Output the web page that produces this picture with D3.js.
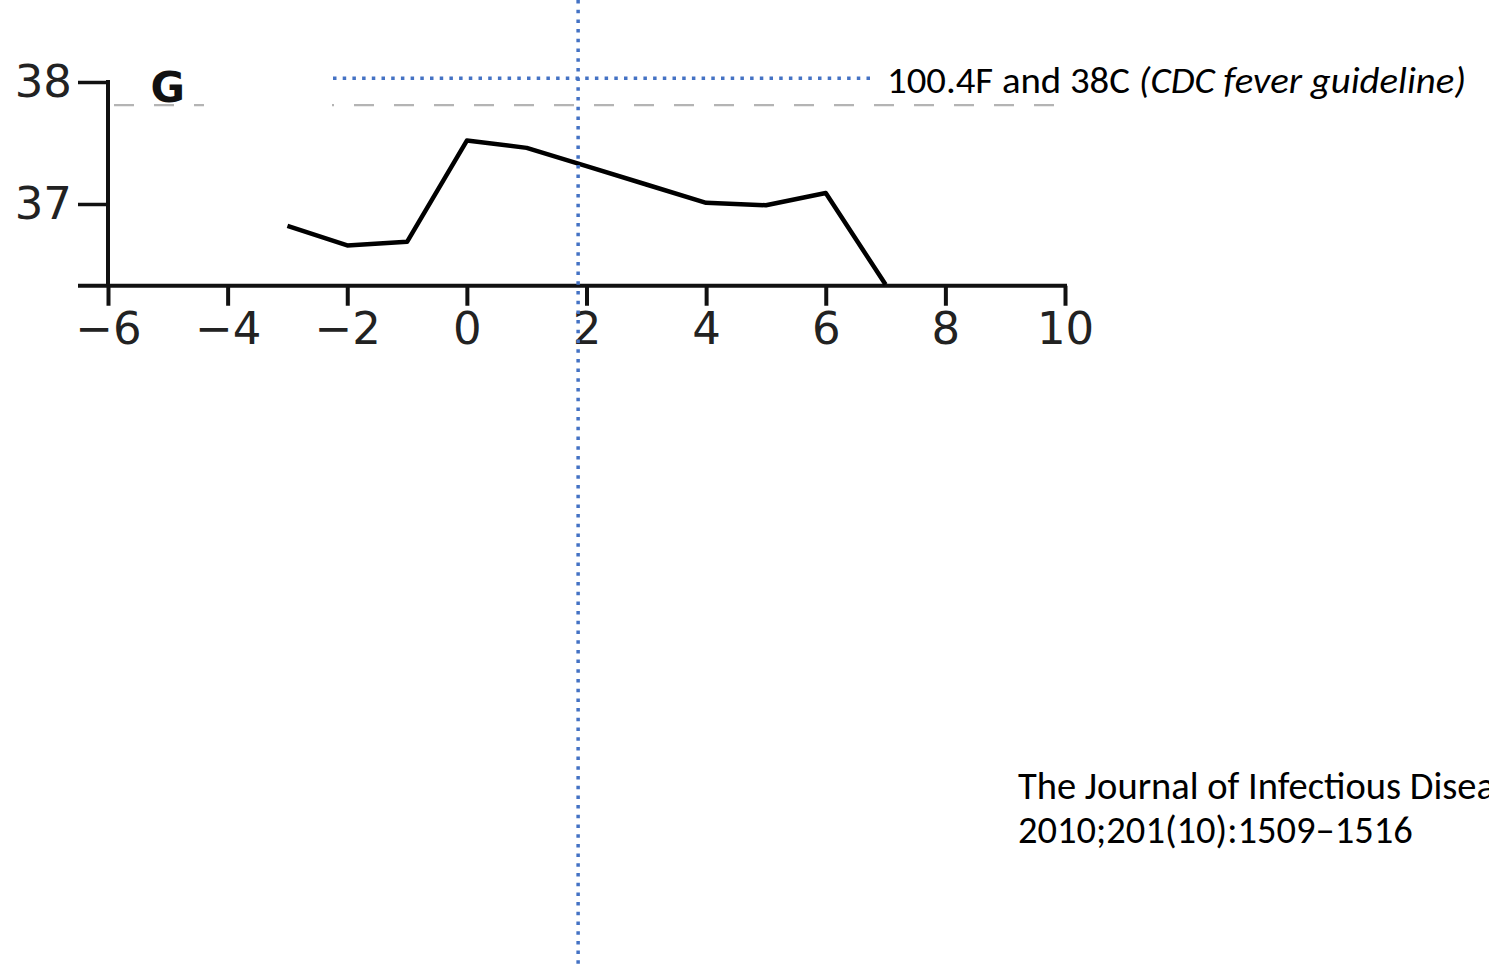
<!DOCTYPE html>
<html>
<head>
<meta charset="utf-8">
<script src="https://cdn.jsdelivr.net/npm/d3@7"></script>
<style>
  html, body { margin: 0; padding: 0; background: #fff; overflow: hidden; }
  svg { display: block; }
  .tick text { font-family: "DejaVu Sans", sans-serif; fill: #222; }
  .note { font-family: Carlito, Calibri, Lato, "Noto Sans", sans-serif; fill: #000; }
</style>
</head>
<body>
<svg></svg>
<script>
(function () {
  var width = 1489;
  var height = 964;

  // days relative to onset vs. mean temperature (C)
  var days = [-3, -2, -1, 0, 1, 2, 3, 4, 5, 6, 7];
  var temps = [36.82, 36.66, 36.69, 37.52, 37.46, 37.31, 37.16, 37.01, 36.99, 37.09, 36.34];

  var xTicks = [-6, -4, -2, 0, 2, 4, 6, 8, 10];
  var yTicks = [37, 38];
  var yBottom = 36.33;        // where the x axis sits
  var dashedLevel = 37.81;    // grey dashed reference line
  var guideLevel = 38.03;     // blue dotted CDC line
  var markerDay = 1.86;       // blue dotted vertical line

  var panelLabel = "G";
  var guideText = "100.4F and 38C ";
  var guideItalic = "(CDC fever guideline)";
  var citeLines = ["The Journal of Infectious Diseases", "2010;201(10):1509\u20131516"];

  var svg = d3.select("svg")
        .attr("width", width)
        .attr("height", height);

  var x = d3.scaleLinear().domain([-6, 10]).range([108, 1065]);
  var y = d3.scaleLinear().domain([37, 38]).range([204, 82]);

  var g = svg.append("g");

  // grey dashed line (partly hidden behind the label box)
  g.append("line")
    .attr("x1", x(-6)).attr("x2", x(10))
    .attr("y1", y(dashedLevel)).attr("y2", y(dashedLevel))
    .attr("stroke", "#b4b4b4")
    .attr("stroke-width", 2.2)
    .attr("stroke-dasharray", "20,20")
    .attr("stroke-dashoffset", -6);
  g.append("rect")
    .attr("x", 204).attr("y", 60)
    .attr("width", 128).attr("height", 60)
    .attr("fill", "#fff");

  // x axis
  var xAxis = g.append("g")
    .attr("transform", "translate(0," + y(yBottom) + ")")
    .call(d3.axisBottom(x)
          .tickValues(xTicks)
          .tickSize(20)
          .tickSizeOuter(0)
          .tickPadding(6));
  xAxis.select(".domain").remove();
  xAxis.selectAll(".tick line").attr("stroke", "#111").attr("stroke-width", 4);
  xAxis.selectAll(".tick text").attr("font-size", 45);
  xAxis.append("line")
    .attr("x1", x(-6) - 30).attr("x2", x(10) + 2)
    .attr("stroke", "#111").attr("stroke-width", 4);

  // y axis
  var yAxis = g.append("g")
    .attr("transform", "translate(" + x(-6) + ",0)")
    .call(d3.axisLeft(y)
          .tickValues(yTicks)
          .tickFormat(d3.format("d"))
          .tickSize(30)
          .tickSizeOuter(0)
          .tickPadding(6));
  yAxis.select(".domain").remove();
  yAxis.selectAll(".tick line").attr("stroke", "#111").attr("stroke-width", 3.5);
  yAxis.selectAll(".tick text").attr("font-size", 45);
  yAxis.append("line")
    .attr("y1", y(38) - 2).attr("y2", y(yBottom))
    .attr("stroke", "#111").attr("stroke-width", 4);

  // panel letter
  g.append("text")
    .attr("x", x(-5)).attr("y", y(38) + 20)
    .attr("text-anchor", "middle")
    .attr("font-family", "'DejaVu Sans', sans-serif")
    .attr("font-weight", "bold")
    .attr("font-size", 42)
    .attr("fill", "#111")
    .text(panelLabel);

  // temperature curve
  var line = d3.line()
        .x(function(d) { return x(d[0]); })
        .y(function(d) { return y(d[1]); });
  g.append("path")
    .datum(d3.zip(days, temps))
    .attr("d", line)
    .attr("fill", "none")
    .attr("stroke", "#000")
    .attr("stroke-width", 4.5)
    .attr("stroke-linejoin", "round");

  // blue dotted annotation lines
  var blue = "#4472C4";
  svg.append("line")
    .attr("x1", 333).attr("x2", 872)
    .attr("y1", y(guideLevel)).attr("y2", y(guideLevel))
    .attr("stroke", blue).attr("stroke-width", 3.5)
    .attr("stroke-dasharray", "3.5,6.2");
  svg.append("line")
    .attr("x1", x(markerDay)).attr("x2", x(markerDay))
    .attr("y1", 0).attr("y2", height)
    .attr("stroke", blue).attr("stroke-width", 3.5)
    .attr("stroke-dasharray", "3.5,6.2");

  var t = svg.append("text")
    .attr("class", "note")
    .attr("x", 887).attr("y", 93)
    .attr("font-size", 37)
    .attr("textLength", 579)
    .attr("lengthAdjust", "spacingAndGlyphs");
  t.append("tspan").text(guideText);
  t.append("tspan").attr("font-style", "italic").text(guideItalic);

  svg.selectAll(".cite")
    .data(citeLines)
    .enter().append("text")
    .attr("class", "note cite")
    .attr("x", 1018)
    .attr("y", function(d, i) { return 799 + i * 44; })
    .attr("font-size", 38.5)
    .text(function(d) { return d; });
})();
</script>
</body>
</html>
